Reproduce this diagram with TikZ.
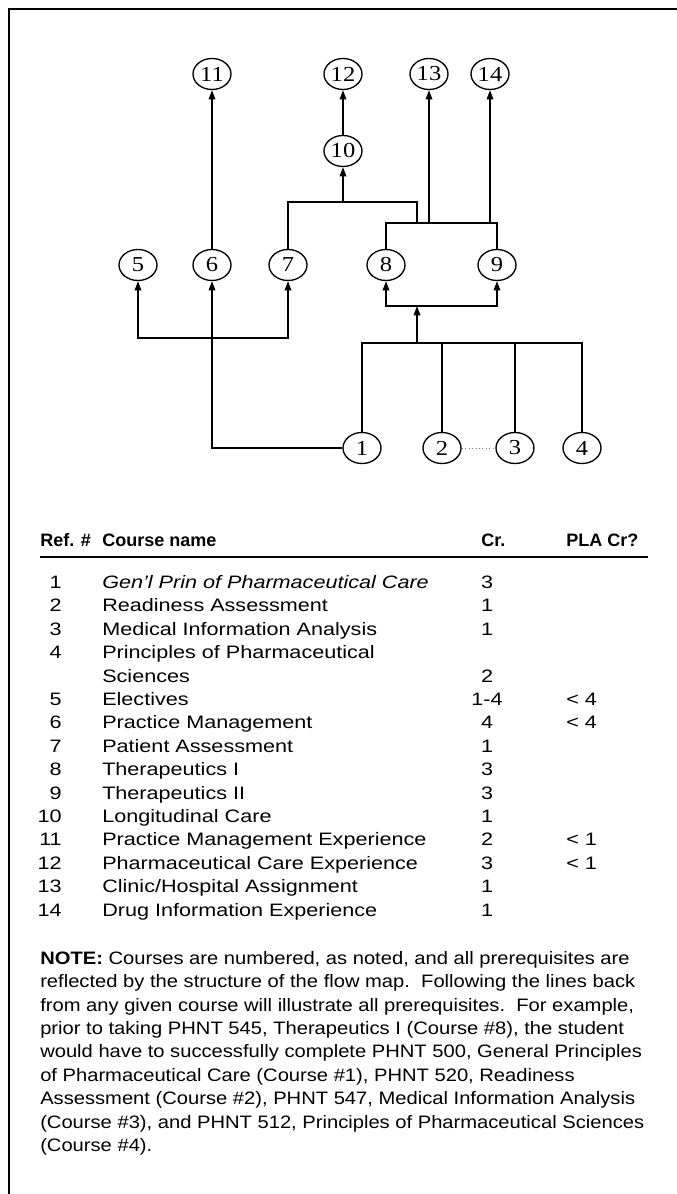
\documentclass[tikz,border=0pt]{standalone}
\usepackage{fontspec}
\setmainfont[FakeStretch=1.2]{Liberation Sans}
\newfontfamily\hdfont{Liberation Sans}
\newfontfamily\notefont[FakeStretch=1.12]{Liberation Sans}
\newfontfamily\numfont[FakeStretch=1.15]{Liberation Serif}
\usetikzlibrary{shapes.geometric}
\usetikzlibrary{arrows.meta}

\begin{document}
\begin{tikzpicture}[x=0.75pt,y=-0.75pt,
	cnode/.style={ellipse,draw=black,line width=1pt,inner sep=0pt,minimum width=28.5pt,minimum height=23.25pt,font=\numfont\fontsize{16}{16}\selectfont},
	link/.style={line width=1pt},
	flow/.style={link,-{Triangle[length=7pt,width=5pt]}},
	txt/.style={anchor=base west,inner sep=0pt,font=\fontsize{13.5}{17.55}\selectfont},
	hd/.style={txt,font=\hdfont\bfseries\fontsize{13.5}{17.55}\selectfont}]
		\useasboundingbox (0,0) rectangle (677,1194);
		\draw[line width=1.5pt] (677,9) -- (9,9) -- (9,1194);
		% courses
		\node[cnode] (c11) at (212,74) {11};
		\node[cnode] (c12) at (343,74) {12};
		\node[cnode] (c13) at (429,74) {13};
		\node[cnode] (c14) at (490,74) {14};
		\node[cnode] (c10) at (343,151) {10};
		\node[cnode] (c5) at (138,265) {5};
		\node[cnode] (c6) at (212,265) {6};
		\node[cnode] (c7) at (288,265) {7};
		\node[cnode] (c8) at (386,265) {8};
		\node[cnode] (c9) at (497,265) {9};
		\node[cnode] (c1) at (362,448) {1};
		\node[cnode] (c2) at (442,448) {2};
		\node[cnode] (c3) at (515,448) {3};
		\node[cnode] (c4) at (582,448) {4};
		\coordinate (j10) at (343,202);
		\coordinate (k) at (417,223);
		\coordinate (j13) at (429,223);
		\coordinate (j14) at (490,223);
		\coordinate (m) at (417,306);
		\coordinate (b) at (417,343);
		\coordinate (b4) at (582,343);
		\coordinate (a) at (212,338);
		% prerequisites
		\draw[flow] (c6) -- (c11);
		\draw[flow] (c10) -- (c12);
		\draw[link] (c7) |- (j10) -| (k);
		\draw[flow] (j10) -- (c10);
		\draw[link] (c8) |- (k) -| (c9);
		\draw[flow] (j13) -- (c13);
		\draw[flow] (j14) -- (c14);
		\draw[flow] (m) -| (c8);
		\draw[flow] (m) -| (c9);
		\draw[flow] (b) -- (m);
		\draw[link] (c1) |- (b4) -- (c4);
		\draw[link] (c2) -- (c2 |- b);
		\draw[link] (c3) -- (c3 |- b);
		\draw[link] (c1) -| (a);
		\draw[flow] (a) -| (c5);
		\draw[flow] (a) -| (c7);
		\draw[flow] (a) -- (c6);
		\draw[dotted,gray,line width=0.6pt] (c2) -- (c3);
		% table
		\node[hd] (href) at (40,546.5) {Ref. \#};
		\node[hd] (hname) at (102,546.5) {Course name};
		\node[hd] (hcr) at (481,546.5) {Cr.};
		\node[hd] (hpla) at (566,546.5) {PLA Cr?};
		\draw[line width=1.5pt] (40,557) -- (648,557);
		\foreach \row/\num/\cname/\credit/\plac in {0/1/{\itshape Gen'l Prin of Pharmaceutical Care}/3/{},
			1/2/Readiness Assessment/1/{}, 2/3/Medical Information Analysis/1/{},
			3/4/Principles of Pharmaceutical/{}/{}, 4/{}/Sciences/2/{},
			5/5/Electives/1-4/{< 4}, 6/6/Practice Management/4/{< 4},
			7/7/Patient Assessment/1/{}, 8/8/Therapeutics I/3/{}, 9/9/Therapeutics II/3/{},
			10/10/Longitudinal Care/1/{}, 11/11/Practice Management Experience/2/{< 1},
			12/12/Pharmaceutical Care Experience/3/{< 1}, 13/13/{Clinic/Hospital Assignment}/1/{},
			14/14/Drug Information Experience/1/{}}
		{
			\node[txt,anchor=base east] (num\row) at (62,588.5+23.4*\row) {\num};
			\node[txt] (name\row) at (102,588.5+23.4*\row) {\cname};
			\node[txt,anchor=base] (cr\row) at (487,588.5+23.4*\row) {\credit};
			\node[txt] (pla\row) at (566,588.5+23.4*\row) {\plac};
		}
		% note
		\node[txt,anchor=north west,align=left,font=\notefont\fontsize{13.5}{17.55}\selectfont] (note) at (40,951) {\textbf{NOTE:} Courses are numbered, as noted, and all prerequisites are\\
			reflected by the structure of the flow map.\ \ Following the lines back\\
			from any given course will illustrate all prerequisites.\ \ For example,\\
			prior to taking PHNT 545, Therapeutics I (Course \#8), the student\\
			would have to successfully complete PHNT 500, General Principles\\
			of Pharmaceutical Care (Course \#1), PHNT 520, Readiness\\
			Assessment (Course \#2), PHNT 547, Medical Information Analysis\\
			(Course \#3), and PHNT 512, Principles of Pharmaceutical Sciences\\
			(Course \#4).};
	\end{tikzpicture}
\end{document}
